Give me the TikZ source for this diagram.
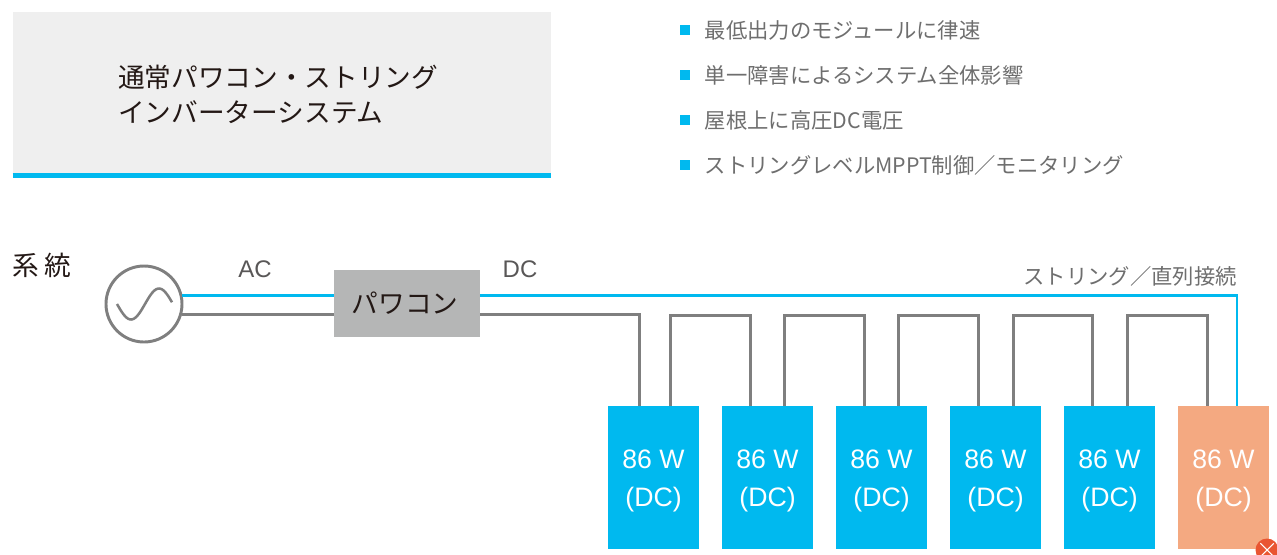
\documentclass[tikz,border=0pt]{standalone}
\usepackage{fontspec}
\setmainfont{Noto Sans CJK JP}
\newfontfamily\latinfont{Liberation Sans}
\definecolor{wireblue}{HTML}{00B9EF}
\definecolor{wiregray}{HTML}{7F7F7F}
\definecolor{boxgray}{HTML}{B5B6B6}
\definecolor{panelgray}{HTML}{EFEFEF}
\definecolor{faultorange}{HTML}{F4A981}
\definecolor{faultred}{HTML}{E95532}
\definecolor{inkdark}{HTML}{231815}
\definecolor{inkgray}{HTML}{6E6E6E}
\definecolor{labelgray}{HTML}{595757}
\newcommand{\modtext}{\rule{0pt}{19pt}86 W\\(DC)}
\tikzset{
	bluewire/.style={draw=wireblue,line width=2.1pt},
	graywire/.style={draw=wiregray,line width=2.25pt},
	modbox/.style={fill=wireblue,text=white,minimum width=68.25pt,minimum height=107.25pt,inner sep=0pt,align=center,font=\latinfont\fontsize{20pt}{28.5pt}\selectfont},
	bullet/.style={fill=wireblue,minimum size=7.5pt,inner sep=0pt},
	pointtext/.style={anchor=west,inner sep=0pt,text=inkgray,font=\fontsize{16pt}{20pt}\selectfont},
	wirelabel/.style={text=labelgray,inner sep=0pt,font=\latinfont\fontsize{18pt}{22pt}\selectfont}
}
\begin{document}
\begin{tikzpicture}[x=.75pt,y=-.75pt,line join=miter]
	\useasboundingbox (0,0) rectangle (1277,554);
	% heading
	\node[fill=panelgray,minimum width=403.5pt,minimum height=124.5pt,inner sep=0pt] (panel) at (282,95) {};
	\draw[wireblue,line width=3.6pt] ([yshift=2pt]panel.south west)--([yshift=2pt]panel.south east);
	\node[anchor=west,inner sep=0pt,align=left,text=inkdark,font=\fontsize{20pt}{26.25pt}\selectfont] (title) at (118,94.5) {通常パワコン・ストリング\\インバーターシステム};
	% points
	\foreach \i/\y/\t in {1/30/最低出力のモジュールに律速,2/75/単一障害によるシステム全体影響,3/120/屋根上に高圧DC電圧,4/165/ストリングレベルMPPT制御／モニタリング}{
		\node[bullet] (bul\i) at (685,\y) {};
		\node[pointtext] (pt\i) at (704.5,\y) {\t};
	}
	% left part
	\node[anchor=west,inner sep=0pt,text=inkdark,font=\fontsize{20pt}{24pt}\selectfont] (grid label) at (12,265) {系\hspace{4.5pt}統};
	\node[circle,draw=wiregray,line width=2.2pt,fill=white,minimum size=57pt,inner sep=0pt] (grid) at (144,304) {};
	\draw[wiregray,line width=1.9pt,smooth,samples=40,domain=117:172] plot(\x,{304+15.5*sin((145-\x)*360/56)});
	\node[fill=boxgray,text=inkdark,minimum width=109.5pt,minimum height=50.25pt,inner sep=0pt,font=\fontsize{20pt}{24pt}\selectfont] (inv) at (407,303.5) {\hbox{パワコン\kern3pt}};
	\node[wirelabel] (ac) at (255,269) {AC};
	\node[wirelabel] (dc) at (520,269) {DC};
	\node[anchor=east,inner sep=0pt,text=inkgray,font=\fontsize{16pt}{20pt}\selectfont] (string label) at (1237,276) {ストリング／直列接続};
	% modules
	\coordinate (wtop) at (0,315);
	\foreach \i/\x/\l/\r in {1/653.5/639/670,2/767.5/750/784,3/881.5/864/898,4/995.5/978/1013,5/1109.5/1092/1127}{
		\coordinate (m\i i) at (\l,406);
		\coordinate (m\i o) at (\r,406);
		\node[modbox] (m\i) at (\x,477.5) {\modtext};
	}
	\coordinate (m6i) at (1207,406);
	\coordinate (m6o) at (1237,406);
	\node[modbox,fill=faultorange] (m6) at (1223.5,477.5) {\modtext};
	% wires
	\draw[bluewire] (grid.13)--(grid.13-|inv.west);
	\draw[graywire] (grid.-16)--(grid.-16-|inv.west);
	\draw[bluewire] (inv.east|-grid.13)-|(m6o);
	\draw[graywire] (inv.east|-grid.-16)-|(m1i);
	\foreach \i/\j in {1/2,2/3,3/4,4/5,5/6}
		\draw[graywire] (m\i o)--(m\i o|-wtop)--(m\j i|-wtop)--(m\j i);
	% fault mark
	\node[circle,fill=faultred,minimum size=17.25pt,inner sep=0pt] (fault) at (1267,550) {};
	\draw[white,line width=.8pt] ([xshift=-5pt,yshift=5pt]fault.center)--([xshift=5pt,yshift=-5pt]fault.center);
	\draw[white,line width=.8pt] ([xshift=-5pt,yshift=-5pt]fault.center)--([xshift=5pt,yshift=5pt]fault.center);
\end{tikzpicture}
\end{document}
